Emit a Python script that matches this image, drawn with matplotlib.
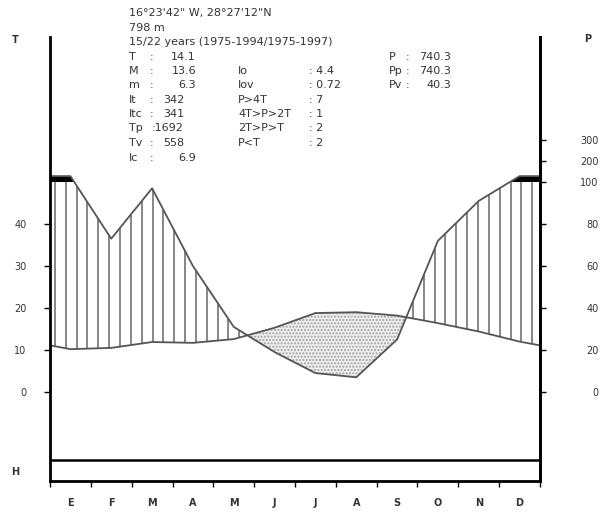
import numpy as np
import matplotlib.pyplot as plt

# climate diagram (Walter-Lieth style)
MONTHS = ['E', 'F', 'M', 'A', 'M', 'J', 'J', 'A', 'S', 'O', 'N', 'D']
TEMP = [10.2, 10.5, 11.9, 11.7, 12.6, 15.3, 18.8, 19.0, 18.2, 16.4, 14.4, 12.0]
PREC = [128, 73, 97, 60, 31, 19, 9, 7, 25, 72, 91, 128]

T_TICKS = [0, 10, 20, 30, 40]
P_TICKS = [0, 20, 40, 60, 80, 100, 200, 300]

HEADER = ['16°23\'42" W, 28°27\'12"N', '798 m', '15/22 years (1975-1994/1975-1997)']
COL1_LABELS = ['T', 'M', 'm', 'It', 'Itc', 'Tp', 'Tv', 'Ic']
COL1_VALUES = ['14.1', '13.6', '6.3', '342', '341', '1692', '558', '6.9']
COL2_LABELS = ['Io', 'Iov', 'P>4T', '4T>P>2T', '2T>P>T', 'P<T']
COL2_VALUES = ['4.4', '0.72', '7', '1', '2', '2']
COL3_LABELS = ['P', 'Pp', 'Pv']
COL3_VALUES = ['740.3', '740.3', '40.3']

W, H = 604, 514
TXT = '#333333'
LINE = '#555555'


def fx(px):
    return px / W


def fy(py):
    return 1 - py / H


def p2t(p):
    # precipitation on the temperature scale: 10 C = 20 mm, above 100 mm compressed 1/10
    p = np.asarray(p, dtype=float)
    return np.where(p <= 100, p / 2, 50 + (p - 100) / 20)


fig = plt.figure(figsize=(6.04, 5.14), dpi=100)
ax = fig.add_axes([fx(50), fy(481), fx(540) - fx(50), fy(37) - fy(481)])
ax.set_xlim(0, 12)
ax.set_ylim(-(481 - 392) / 4.2, (392 - 37) / 4.2)

# month centres, curves extended to the edges
xm = np.arange(12) + 0.5
x = np.concatenate([[0], xm, [12]])
t_edge = (TEMP[0] + TEMP[-1]) / 2
p_edge = (PREC[0] + PREC[-1]) / 2
t_ext = np.concatenate([[t_edge], TEMP, [t_edge]])
p_ext = p2t(np.concatenate([[p_edge], PREC, [p_edge]]))

xs = np.linspace(0, 12, 2401)
ts = np.interp(xs, x, t_ext)
ps = np.interp(xs, x, p_ext)

# humid period: vertical hatching
hx = np.arange(0.12, 12, 0.2657)
ht = np.interp(hx, x, t_ext)
hp = np.minimum(np.interp(hx, x, p_ext), 50)
m = hp > ht
ax.vlines(hx[m], ht[m], hp[m], color='#666666', lw=1.1)

# above 100 mm: black
ax.fill_between(xs, 50, ps, where=ps > 50, color='black', lw=0)

# dry period: dotted
ax.fill_between(xs, ts, ps, where=ts > ps, interpolate=True,
                facecolor='#efefef', edgecolor='#a0a0a0', hatch='.....', lw=0)

ax.plot(x, t_ext, color=LINE, lw=1.3)
ax.plot(x, p_ext, color=LINE, lw=1.3)

# frame
ax.spines['top'].set_visible(False)
for s in ['left', 'right', 'bottom']:
    ax.spines[s].set_linewidth(2)
ax.axhline(-(460 - 392) / 4.2, color='black', lw=1.8)

ax.set_yticks(T_TICKS)
ax.set_yticklabels([str(v) for v in T_TICKS])
ax.tick_params(axis='y', direction='out', length=4, width=1, pad=13,
               labelsize=7, labelcolor=TXT)

ax.set_xticks(range(13))
ax.set_xticklabels([])
ax.set_xticks(xm, minor=True)
ax.set_xticklabels(MONTHS, minor=True, fontsize=7, fontweight='bold', color=TXT)
ax.tick_params(axis='x', which='major', direction='out', length=4, width=1)
ax.tick_params(axis='x', which='minor', length=0, pad=12)

ax2 = ax.twinx()
ax2.set_ylim(ax.get_ylim())
for s in ['top', 'left', 'bottom']:
    ax2.spines[s].set_visible(False)
ax2.spines['right'].set_linewidth(2)
ax2.set_yticks(p2t(P_TICKS))
ax2.set_yticklabels([str(v) for v in P_TICKS])
ax2.tick_params(axis='y', direction='out', length=4, width=1, pad=38,
                labelsize=7, labelcolor=TXT)
for lab in ax2.get_yticklabels():
    lab.set_horizontalalignment('right')

# axis letters
fig.text(fx(15), fy(40), 'T', fontsize=7, fontweight='bold', color=TXT, ha='center', va='center')
fig.text(fx(588), fy(39), 'P', fontsize=7, fontweight='bold', color=TXT, ha='center', va='center')
fig.text(fx(15), fy(472), 'H', fontsize=7, fontweight='bold', color=TXT, ha='center', va='center')

# header text
kw = dict(fontsize=8, color=TXT, va='center')
rows_y = [13, 28, 42]
for s, yy in zip(HEADER, rows_y):
    fig.text(fx(129), fy(yy), s, **kw)

col_y = [57, 71, 85, 100, 114, 128, 143, 158]
for lab, val, yy in zip(COL1_LABELS, COL1_VALUES, col_y):
    fig.text(fx(129), fy(yy), lab, **kw)
    if lab == 'Tp':
        fig.text(fx(184), fy(yy), ':' + val, ha='right', **kw)
        continue
    fig.text(fx(150), fy(yy), ':', **kw)
    fig.text(fx(196 if '.' in val else 184), fy(yy), val, ha='right', **kw)

for lab, val, yy in zip(COL2_LABELS, COL2_VALUES, col_y[1:]):
    fig.text(fx(238), fy(yy), lab, **kw)
    fig.text(fx(309), fy(yy), ': ' + val, **kw)

for lab, val, yy in zip(COL3_LABELS, COL3_VALUES, col_y[:3]):
    fig.text(fx(389), fy(yy), lab, **kw)
    fig.text(fx(406), fy(yy), ':', **kw)
    fig.text(fx(451), fy(yy), val, ha='right', **kw)

fig.savefig('out.png', dpi=100, facecolor='white')
